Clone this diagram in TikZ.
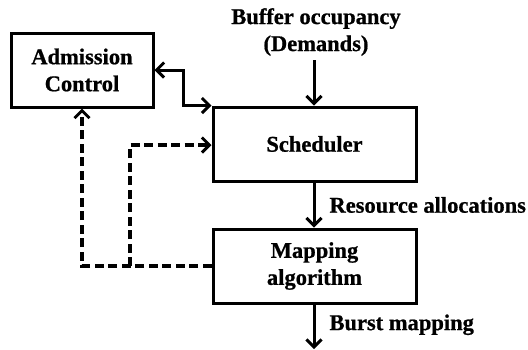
\documentclass[tikz,border=0pt]{standalone}
\usepackage{fontspec}
\setmainfont{Liberation Serif}[BoldFeatures={FakeBold=0.8}]
\usetikzlibrary{arrows.meta}
\begin{document}
\begin{tikzpicture}[x=1pt,y=-1pt,
  every node/.style={font=\fontsize{22.5}{27}\selectfont\bfseries},
  tip/.tip={Straight Barb[length=7.5pt,width=15pt,line width=3pt]},
  blockbox/.style={draw,line width=3pt,inner sep=0pt},
  flow/.style={line width=3pt,-tip},
  feedback/.style={flow,line width=3.3pt,dash pattern=on 9pt off 4.5pt},
  lbl/.style={anchor=west,inner sep=0pt}]
\useasboundingbox (0,0) rectangle (528,349);

% processing blocks
\node[blockbox,minimum width=142pt,minimum height=74pt,align=center] (adm) at (82,70) {Admission\\Control};
\node[blockbox,minimum width=203pt,minimum height=74pt] (sch) at (314.5,144) {Scheduler};
\node[blockbox,minimum width=203pt,minimum height=74pt,align=center] (map) at (314.5,266) {Mapping\\algorithm};

% external input and output
\node[align=center,inner sep=0pt] (buf) at (316,32) {Buffer occupancy\\(Demands)};
\coordinate (bufend) at (314,60);
\coordinate (out) at (314,349);

\draw[flow] (bufend) -- (sch.north -| bufend);
\draw[flow] (sch.south -| bufend) -- node[lbl,xshift=14pt] (alloc) {Resource allocations} (map.north -| bufend);
\draw[flow] (map.south -| bufend) -- node[lbl,xshift=14pt,yshift=2pt] (burst) {Burst mapping} (out);

% admission control <-> scheduler
\coordinate (bend) at (183,70);
\draw[flow,tip-tip] (adm.east) -- (bend) |- (sch.north west);

% dashed feedback from the mapping block
\coordinate (split) at (130,266);
\coordinate (tap) at (130,145);
\draw[feedback] (map.west) -- (adm.south |- split) -- (adm.south);
\draw[feedback] (split) -- (tap) -- (sch.west |- tap);
\end{tikzpicture}
\end{document}
